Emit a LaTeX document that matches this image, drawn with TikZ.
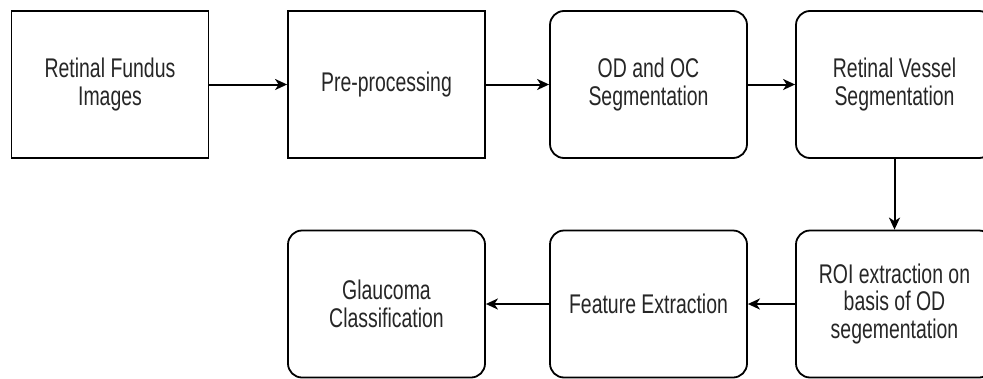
\documentclass[tikz,border=0pt]{standalone}
\usepackage{fontspec}
\setmainfont[FakeStretch=0.72]{Liberation Sans}
\usetikzlibrary{arrows.meta}
\tikzset{
  sqbox/.style={draw=black, line width=1.8pt, minimum width=197pt, minimum height=147pt,
    align=center, inner sep=0pt, font=\fontsize{27}{27.5}\selectfont, text=black!85},
  rdbox/.style={sqbox, rounded corners=14pt},
  flow/.style={draw=black, line width=2pt, -{Stealth[length=12pt,width=11pt,inset=3.5pt]}}
}
\begin{document}
\begin{tikzpicture}[x=1pt,y=-1pt]
\clip (0,0) rectangle (983,378);
\fill[white] (0,0) rectangle (983,378);
\node[sqbox] (rfi) at (110,84.5) {Retinal Fundus\\Images};
\node[sqbox] (pre) at (386.5,84.5) {Pre-processing};
\node[rdbox] (odoc) at (648.5,84.5) {OD and OC\\Segmentation};
\node[rdbox] (rvs) at (894.5,84.5) {Retinal Vessel\\Segmentation};
\node[rdbox] (roi) at (894.5,304) {ROI extraction on\\basis of OD\\segementation};
\node[rdbox] (fe) at (648.5,304) {Feature Extraction};
\node[rdbox] (gc) at (386.5,304) {Glaucoma\\Classification};
\draw[flow] (rfi) -- (pre);
\draw[flow] (pre) -- (odoc);
\draw[flow] (odoc) -- (rvs);
\draw[flow] (rvs) -- (roi);
\draw[flow] (roi) -- (fe);
\draw[flow] (fe) -- (gc);
\end{tikzpicture}
\end{document}
